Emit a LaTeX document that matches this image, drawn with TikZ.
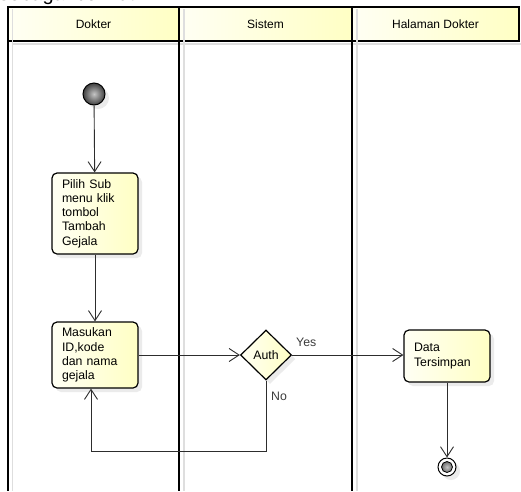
\documentclass[tikz,border=0pt]{standalone}
\usepackage{fontspec}
\setmainfont{Liberation Sans}
\usetikzlibrary{arrows.meta,shapes.geometric,shadows}

\definecolor{noteA}{RGB}{255,255,244}
\definecolor{noteB}{RGB}{255,255,196}
\definecolor{wire}{RGB}{45,45,45}
\definecolor{ghost}{RGB}{222,222,222}
\definecolor{labelgray}{RGB}{60,60,60}

\pgfdeclarelayer{back}
\pgfsetlayers{back,main}

\tikzset{
  lanehead/.style={rectangle, draw=black, line width=1.2pt, left color=noteA, right color=noteB,
    minimum height=34pt, inner sep=0pt, outer sep=0pt, font=\fontsize{12}{14}\selectfont},
  laneline/.style={line width=2.2pt, black},
  laneghost/.style={line width=1.6pt, ghost},
  softshadow/.style={drop shadow={shadow xshift=4pt, shadow yshift=-4pt, fill=black!35, opacity=0.22}},
  action/.style={rectangle, rounded corners=5pt, draw=black, line width=1.2pt,
    left color=noteA, right color=noteB, text width=66pt, align=left,
    inner xsep=10pt, inner ysep=0pt, minimum width=86pt, softshadow},
  decision/.style={diamond, aspect=1, draw=black, line width=1.2pt, left color=noteA, right color=noteB,
    minimum width=51pt, minimum height=50pt, inner sep=0pt, softshadow},
  initial/.style={circle, draw=black, line width=1pt, minimum size=22pt, inner sep=0pt,
    inner color=gray!45, outer color=black!75, softshadow},
  final/.style={circle, draw=black, line width=1pt, minimum size=18pt, inner sep=0pt, fill=white,
    softshadow,
    path picture={\draw[black, line width=0.8pt, inner color=gray!45, outer color=black!80]
      (path picture bounding box.center) circle (5.5pt);}},
  flow/.style={wire, line width=0.9pt, -{Straight Barb[length=10pt,width=13pt]}},
  flowghost/.style={ghost, line width=1.4pt, -{Straight Barb[length=10pt,width=13pt]}},
  tag/.style={text=labelgray, inner sep=0pt}
}

\begin{document}
\begin{tikzpicture}[x=1pt, y=-1pt, font=\fontsize{12.3}{14.2}\selectfont]
  \useasboundingbox (0,0) rectangle (521,491);
  \fill[white] (0,0) rectangle (521,491);

  % running text of the page, cut by the top edge
  \begin{scope}
    \clip (0,0) rectangle (521,491);
    \node[anchor=base west, inner sep=0pt, font=\fontsize{20}{24}\selectfont] (intro) at (-1,0.6) {sebagai berikut};
  \end{scope}

  % swimlane headers
  \node[lanehead, minimum width=171pt] (hDok) at (93.5,24) {Dokter};
  \node[lanehead, minimum width=173pt] (hSis) at (265.5,24) {Sistem};
  \node[lanehead, minimum width=167pt] (hHal) at (435.5,24) {Halaman Dokter};

  % lane shadows and borders
  \draw[laneghost] (12.5,9) -- (12.5,491);
  \draw[laneghost] (184,9) -- (184,491);
  \draw[laneghost] (357,9) -- (357,491);
  \draw[laneghost] (12,44) -- (521,44);
  \draw[laneline] (8,7) -- (8,491);
  \draw[laneline] (179,7) -- (179,491);
  \draw[laneline] (352,7) -- (352,491);

  % activity nodes
  \node[initial] (start) at (94,94) {};
  \node[action, minimum height=81pt] (pilih) at (95,213.5) {Pilih Sub\\menu klik\\tombol\\Tambah\\Gejala};
  \node[action, minimum height=66pt] (masuk) at (95,355) {Masukan\\ID,kode\\dan nama\\gejala};
  \node[decision] (auth) at (266,355) {Auth};
  \node[action, minimum height=52pt] (data) at (447,356) {Data\\Tersimpan};
  \node[final] (end) at (447,467) {};
  \coordinate (back) at (266,451);

  % guard labels
  \node[tag, anchor=west] (yes) at (296,342) {Yes};
  \node[tag, anchor=west] (no) at (271,396) {No};

  % connector shadows
  \begin{pgfonlayer}{back}
    \begin{scope}[transform canvas={shift={(4pt,-4pt)}}]
      \draw[flowghost] (start) -- (pilih);
      \draw[flowghost] (pilih) -- (masuk);
      \draw[flowghost] (masuk) -- (auth);
      \draw[flowghost] (auth.east) -- (auth.east -| data.west);
      \draw[flowghost] (data) -- (end);
      \draw[flowghost] (auth.south) -- (back) -| ([xshift=-4pt]masuk.south);
    \end{scope}
  \end{pgfonlayer}

  % connectors
  \draw[flow] (start) -- (pilih);
  \draw[flow] (pilih) -- (masuk);
  \draw[flow] (masuk) -- (auth);
  \draw[flow] (auth.east) -- (auth.east -| data.west);
  \draw[flow] (data) -- (end);
  \draw[flow] (auth.south) -- (back) -| ([xshift=-4pt]masuk.south);
\end{tikzpicture}
\end{document}
